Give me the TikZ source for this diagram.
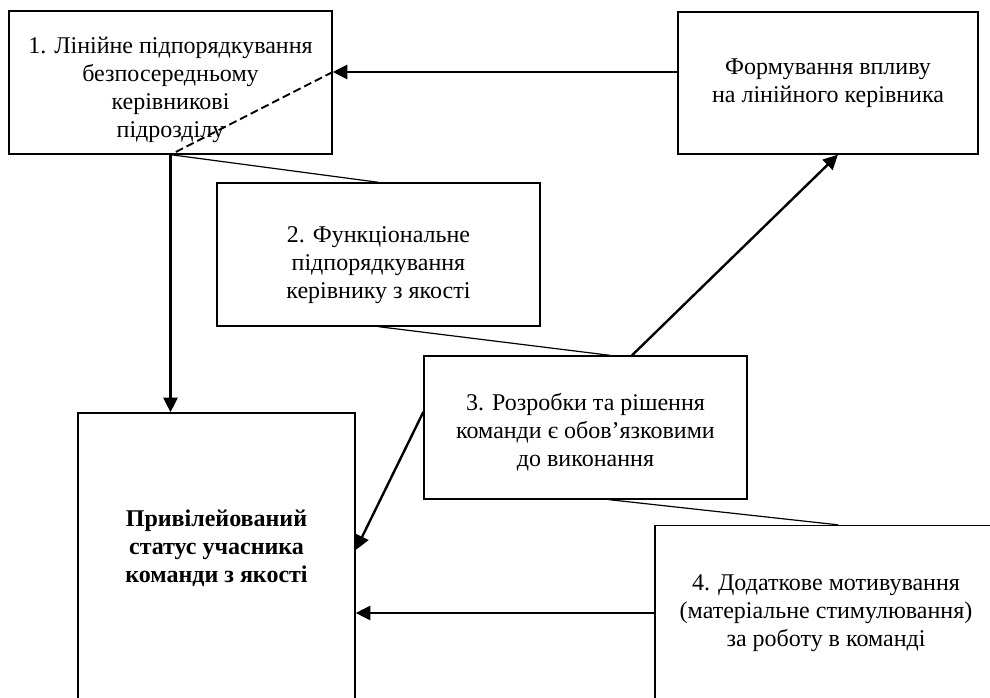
\documentclass[tikz,border=0pt]{standalone}
\usepackage{fontspec}
\setmainfont{Liberation Serif}
\usetikzlibrary{arrows.meta,calc}
\newcommand{\dnshift}[1]{\rule{0pt}{\dimexpr 12.5pt+2\dimexpr #1\relax\relax}}
\tikzset{
  box/.style={draw=black, line width=1pt, rectangle, inner sep=0pt, align=center,
    font=\fontsize{18}{21}\selectfont, fill=white},
  txt/.style={align=center, font=\fontsize{18}{21}\selectfont\bfseries, inner sep=0pt},
  arr/.style={line width=1.8pt, -{Triangle[length=11pt,width=10.5pt]}},
  thin/.style={line width=0.9pt},
  dsh/.style={line width=1.4pt, dash pattern=on 6pt off 3pt}
}
\begin{document}
\begin{tikzpicture}[x=0.75pt,y=-0.75pt]
\useasboundingbox (0,0) rectangle (990,698);
\clip (0,0) rectangle (990,698);
\fill[white] (0,0) rectangle (990,698);
\coordinate (ya) at (0,72);
% boxes
\node[box, minimum width=242.25pt, minimum height=107.25pt] (b1) at (170.5,82.5)
  {\dnshift{5.6pt}1. Лінійне підпорядкування\\безпосередньому\\керівникові\\підрозділу};
\node[box, minimum width=225pt, minimum height=106.5pt] (F) at (828,83)
  {Формування впливу\\на лінійного керівника};
\node[box, minimum width=242.25pt, minimum height=107.25pt] (b2) at (378.5,254.5)
  {\dnshift{8pt}2. Функціональне\\підпорядкування\\керівнику з якості};
\node[box, minimum width=242.25pt, minimum height=107.25pt] (b3) at (585.5,427.5)
  {\dnshift{3.4pt}3. Розробки та рішення\\команди є обов’язковими\\до виконання};
\node[box, minimum width=256.5pt, minimum height=131.25pt] (b4) at (826,613)
  {4. Додаткове мотивування\\(матеріальне стимулювання)\\за роботу в команді};
\node[box, minimum width=207.75pt, minimum height=240pt] (p) at (216.5,573) {};
\node[txt] (ptext) at (216.5,548) {Привілейований\\статус учасника\\команди з якості};
% connectors
\draw[arr] (F.west |- ya) -- (b1.east |- ya);
\draw[dsh] (b1.east |- ya) -- (b1.south);
\draw[arr] (b1.south) -- (b1.south |- p.north);
\draw[thin] (b1.south) -- (b2.north);
\draw[thin] (b2.south) -- ($(b3.north)+(24.5,0)$);
\draw[arr] ($(b3.north)+(46.5,0)$) -- ($(F.south)+(10,0)$);
\draw[arr] ($(b3.west)+(0,-15.5)$) -- ($(p.east)+(0,-23)$);
\draw[thin] ($(b3.south)+(23.5,0)$) -- ($(b4.north)+(12,0)$);
\draw[arr] (b4.west) -- (p.east |- b4.west);
\end{tikzpicture}
\end{document}
